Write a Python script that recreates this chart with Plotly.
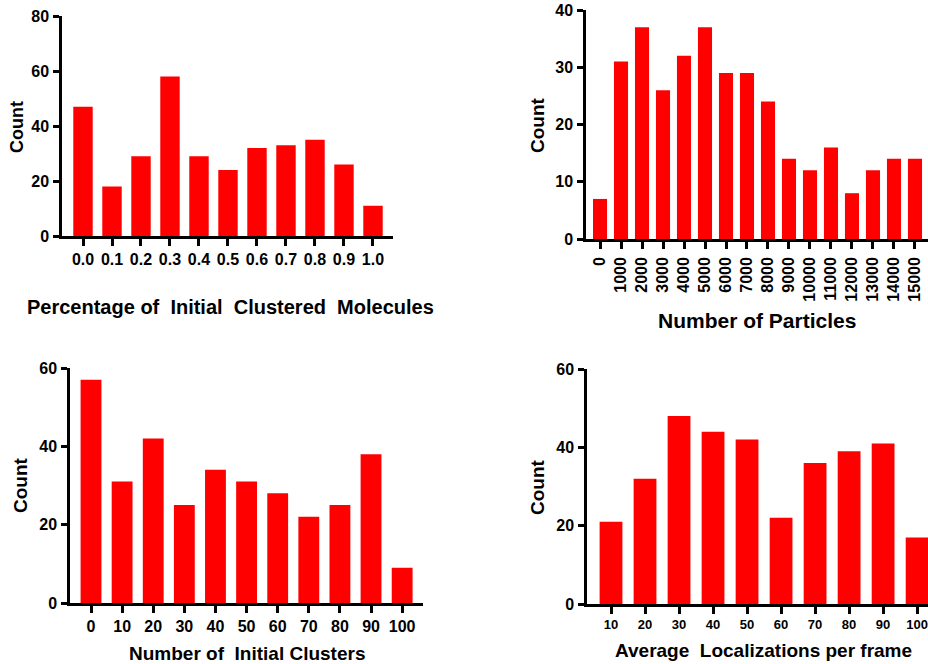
import plotly.graph_objects as go

# ---- data ----
pct_labels = ["0.0", "0.1", "0.2", "0.3", "0.4", "0.5", "0.6", "0.7", "0.8", "0.9", "1.0"]
pct_counts = [47, 18, 29, 58, 29, 24, 32, 33, 35, 26, 11]

particle_labels = ["0", "1000", "2000", "3000", "4000", "5000", "6000", "7000", "8000",
                   "9000", "10000", "11000", "12000", "13000", "14000", "15000"]
particle_counts = [7, 31, 37, 26, 32, 37, 29, 29, 24, 14, 12, 16, 8, 12, 14, 14]

cluster_labels = ["0", "10", "20", "30", "40", "50", "60", "70", "80", "90", "100"]
cluster_counts = [57, 31, 42, 25, 34, 31, 28, 22, 25, 38, 9]

loc_labels = ["10", "20", "30", "40", "50", "60", "70", "80", "90", "100"]
loc_counts = [21, 32, 48, 44, 42, 22, 36, 39, 41, 17]

x_titles = ["Percentage of\u00a0 Initial\u00a0 Clustered\u00a0 Molecules",
            "Number of Particles",
            "Number of\u00a0 Initial Clusters",
            "Average\u00a0 Localizations per frame"]
y_title = "Count"

W, H = 928, 664
FONT = "Liberation Sans, Arial, sans-serif"
RED = "#FF0000"

def px(x):
    return x / W

def py(y):
    return 1 - y / H

panels = [
    dict(lab=pct_labels, cnt=pct_counts, xd=(62, 393), yd=(236, 16), xr=[-0.724, 10.69], yr=[0, 80], dt=20, xs=16, ys=16, ang=0),
    dict(lab=particle_labels, cnt=particle_counts, xd=(586, 928), yd=(239, 10), xr=[-0.667, 15.62], yr=[0, 40], dt=10, xs=16, ys=16, ang=-90),
    dict(lab=cluster_labels, cnt=cluster_counts, xd=(70, 423), yd=(603, 368), xr=[-0.675, 10.67], yr=[0, 60], dt=20, xs=16, ys=16, ang=0),
    dict(lab=loc_labels, cnt=loc_counts, xd=(587, 928), yd=(604, 369), xr=[-0.706, 9.32], yr=[0, 60], dt=20, xs=13, ys=16, ang=0),
]

fig = go.Figure()
layout = dict(
    width=W, height=H, margin=dict(l=0, r=0, t=0, b=0, autoexpand=False),
    paper_bgcolor="white", plot_bgcolor="white", showlegend=False,
)

for i, p in enumerate(panels):
    n = "" if i == 0 else str(i + 1)
    fig.add_trace(go.Bar(x=p["lab"], y=p["cnt"], marker=dict(color=RED, line=dict(width=0)),
                         xaxis="x" + n, yaxis="y" + n, width=0.67))
    layout["xaxis" + n] = dict(
        domain=[px(p["xd"][0]), px(p["xd"][1])], anchor="y" + n, type="category",
        range=p["xr"], showline=True, linecolor="black", linewidth=2.5,
        ticks="outside", ticklen=7, tickwidth=2.5, tickcolor="black",
        tickangle=p["ang"], showgrid=False, zeroline=False, automargin=False,
        tickfont=dict(family=FONT, size=p["xs"], color="black", weight="bold"),
        ticklabelstandoff=0 if p["ang"] == 0 else 2,
    )
    layout["yaxis" + n] = dict(
        domain=[py(p["yd"][0]), py(p["yd"][1])], anchor="x" + n,
        range=p["yr"], dtick=p["dt"], showline=True, linecolor="black", linewidth=2.5,
        ticks="outside", ticklen=6, tickwidth=2.5, tickcolor="black",
        showgrid=False, zeroline=False, automargin=False,
        tickfont=dict(family=FONT, size=p["ys"], color="black", weight="bold"),
        ticklabelstandoff=1,
    )

fig.update_layout(**layout)

xt_pos = [(230, 307, 20), (757, 320, 21), (247, 653, 19), (763, 650, 19)]
yt_pos = [(17, 127, 18), (537, 125, 19), (20, 485, 19), (537, 487, 19)]
for (x, y, s), t in zip(xt_pos, x_titles):
    fig.add_annotation(x=px(x), y=py(y), xref="paper", yref="paper", text=t, showarrow=False,
                       xanchor="center", yanchor="middle",
                       font=dict(family=FONT, size=s, color="black", weight="bold"))
for (x, y, s) in yt_pos:
    fig.add_annotation(x=px(x), y=py(y), xref="paper", yref="paper", text=y_title, showarrow=False,
                       xanchor="center", yanchor="middle", textangle=-90,
                       font=dict(family=FONT, size=s, color="black", weight="bold"))

fig.write_html("out.html", config={"displayModeBar": False},
               post_script="document.body.style.margin='0';document.body.style.overflow='hidden';")
